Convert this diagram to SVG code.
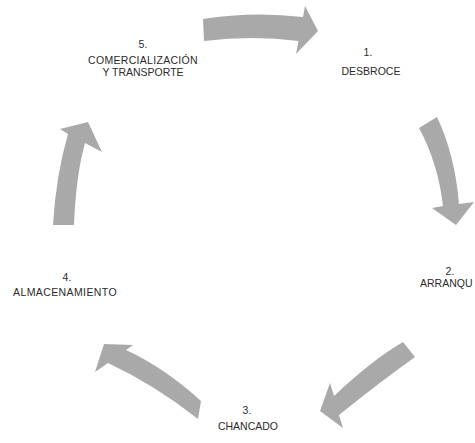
<svg xmlns="http://www.w3.org/2000/svg" width="475" height="443" viewBox="0 0 475 443">
<style>
.lbl{font-family:"Liberation Sans",Arial,sans-serif;font-size:10.5px;fill:#2b2b2b;text-anchor:middle}
.arr{fill:#a9a9a9;stroke:none}
</style>
<rect width="475" height="443" fill="#ffffff"/>
<g id="connectors">
<path class="arr" d="M203,19 Q252,11 303,17 L305,6 L318,31 L296,54 L298.5,41 Q252,35 204,41 Z"/>
<path class="arr" d="M437,117 Q455,155 459,204 L474,202 L456,225 L432,208 L443,206 Q438,163 419,128 Z"/>
<path class="arr" d="M403,342 Q372,360 334,396 L330,383 L320,411 L343,428 L339,415 Q380,382 415,357 Z"/>
<path class="arr" d="M104,344 L133,345 L126,350 Q165,368 201,401 L198,419 Q155,385 108,363 L95,372 Z"/>
<path class="arr" d="M53,225 Q56,175 68,134 L60,129 L88,122 L102,152 L85,143 Q76,175 74,225 Z"/>
</g>
<g id="node1">
<text class="lbl" x="368" y="56">1.</text>
<text class="lbl" x="371" y="75">DESBROCE</text>
</g>
<g id="node2">
<text class="lbl" x="450" y="275">2.</text>
<text class="lbl" x="420" y="287" style="text-anchor:start">ARRANQU</text>
</g>
<g id="node3">
<text class="lbl" x="247" y="414">3.</text>
<text class="lbl" x="248" y="430">CHANCADO</text>
</g>
<g id="node4">
<text class="lbl" x="67" y="281">4.</text>
<text class="lbl" x="65" y="296" style="letter-spacing:0.4px">ALMACENAMIENTO</text>
</g>
<g id="node5">
<text class="lbl" x="143" y="48">5.</text>
<text class="lbl" x="143" y="64" style="letter-spacing:0.3px">COMERCIALIZACIÓN</text>
<text class="lbl" x="143" y="76">Y TRANSPORTE</text>
</g>
</svg>
